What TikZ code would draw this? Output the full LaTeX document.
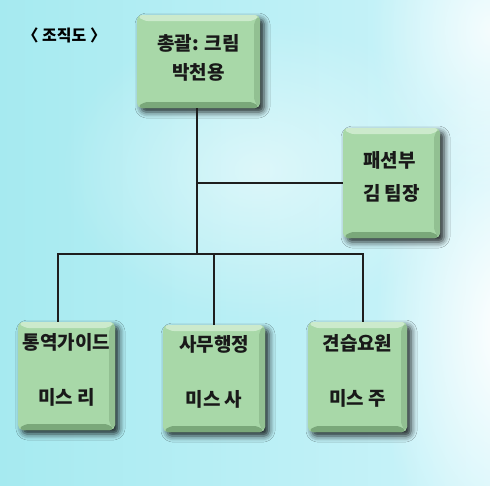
\documentclass[tikz,border=0pt]{standalone}
\usepackage{fontspec}
\newfontfamily\kofont{Noto Sans CJK KR}
\usetikzlibrary{positioning,shadows.blur,fadings}
\definecolor{bgcyan}{RGB}{166,234,240}
\definecolor{bgpale}{RGB}{204,244,250}
\definecolor{boxgreen}{RGB}{168,216,168}
\definecolor{boxlight}{RGB}{204,234,204}
\definecolor{boxdark}{RGB}{122,168,122}
\definecolor{boxside}{RGB}{146,192,146}
\definecolor{lineink}{RGB}{30,30,30}
\tikzfading[name=softglow, inner color=transparent!0, outer color=transparent!100]
\tikzstyle{orgline} = [line width=1.3pt, color=lineink]
\tikzstyle{orgbox} = [rounded corners=5pt, fill=boxgreen, inner sep=0pt,
  font=\kofont\bfseries\fontsize{19}{22}\selectfont, text=black!90, text depth=15pt,
  blur shadow={shadow xshift=4pt, shadow yshift=-4pt, shadow opacity=85, shadow blur radius=6pt},
  path picture={
    \fill[boxlight] (path picture bounding box.north west) -- (path picture bounding box.north east)
      -- ([xshift=-6pt,yshift=-6pt]path picture bounding box.north east) -- ([xshift=6pt,yshift=-6pt]path picture bounding box.north west) -- cycle;
    \fill[boxdark] (path picture bounding box.south west) -- (path picture bounding box.south east)
      -- ([xshift=-6pt,yshift=6pt]path picture bounding box.south east) -- ([xshift=6pt,yshift=6pt]path picture bounding box.south west) -- cycle;
    \fill[boxside] (path picture bounding box.north east) -- (path picture bounding box.south east)
      -- ([xshift=-6pt,yshift=6pt]path picture bounding box.south east) -- ([xshift=-6pt,yshift=-6pt]path picture bounding box.north east) -- cycle;
  }]

\begin{document}
\begin{tikzpicture}[x=1pt, y=-1pt]
% background
\useasboundingbox (0,0) rectangle (490,485);
\shade[left color=bgcyan, right color=bgpale] (0,0) rectangle (490,485);
\fill[white, opacity=0.5, path fading=softglow] (260,170) ellipse (200 and 150);
\fill[white, path fading=softglow] (505,330) ellipse (130 and 260);
\fill[white, opacity=0.8, path fading=softglow] (490,30) ellipse (120 and 160);

% title
\node[font=\kofont\bfseries\fontsize{16}{19}\selectfont, anchor=west] (title) at (19,35) {〈 조직도 〉};

% boxes
\node[orgbox, minimum width=123pt, minimum height=93pt, align=center, text depth=10pt] (top) at (198.5,61.5) {총괄: 크림\\[7pt]박천용};
\node[orgbox, minimum width=97pt, minimum height=110pt, align=left] (fashion) at (391.5,183) {패션부\\[11pt]김 팀장};
\node[orgbox, minimum width=97pt, minimum height=108pt, align=center] (guide) at (66.5,376) {통역가이드\\[33pt]미스 리};
\node[orgbox, minimum width=102pt, minimum height=107pt, align=center] (office) at (214,378.5) {사무행정\\[33pt]미스 사};
\node[orgbox, minimum width=99pt, minimum height=110pt, align=center] (trainee) at (357.5,377) {견습요원\\[33pt]미스 주};

% connectors
\coordinate (hub) at (197,254);
\draw[orgline] ([xshift=-1.5pt]top.south) -- (hub);
\draw[orgline] ([xshift=-1.5pt]top.south |- fashion.west) -- (fashion.west);
\draw[orgline] ([xshift=-8.5pt]guide.north) |- ([xshift=5.5pt]trainee.north |- hub) -- ([xshift=5.5pt]trainee.north);
\draw[orgline] (office.north |- hub) -- (office.north);
\end{tikzpicture}
\end{document}
